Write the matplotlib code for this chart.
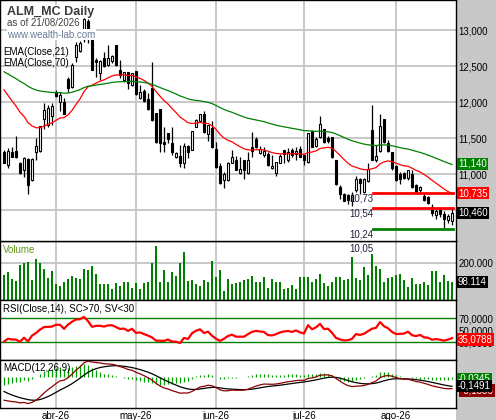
import numpy as np
import matplotlib
matplotlib.use("Agg")
import matplotlib.pyplot as plt
from matplotlib.patches import Rectangle
import matplotlib.transforms as mtransforms

plt.rcParams['font.family'] = ['Liberation Sans', 'DejaVu Sans']

# daily candles (13/03/2026 .. 21/08/2026)
opens = [11.30, 11.12, 11.30, 11.31, 11.15, 11.06, 11.20, 10.92, 11.30, 11.32,
         11.76, 11.68, 11.80, 12.12, 12.00, 12.00, 12.31, 12.21, 12.62, 12.71,
         12.87, 13.12, 12.86, 12.58, 12.41, 12.61, 12.51, 12.57, 12.79, 12.44,
         12.31, 12.41, 12.24, 12.42, 12.05, 12.15, 12.04, 12.19, 11.84, 11.90,
         11.44, 11.56, 11.43, 11.24, 11.25, 11.16, 11.38, 11.34, 11.66, 11.74,
         11.83, 11.56, 11.63, 11.34, 11.11, 10.92, 10.92, 11.16, 11.19, 11.02,
         11.19, 11.01, 11.37, 11.48, 11.29, 11.26, 11.28, 11.08, 11.02, 11.16,
         11.33, 11.19, 11.33, 11.28, 11.34, 11.26, 11.17, 11.60, 11.39, 11.51,
         11.62, 11.49, 11.51, 11.19, 10.82, 10.72, 10.70, 10.62, 10.78, 10.92,
         10.75, 10.91, 11.61, 11.19, 11.32, 11.76, 11.42, 11.30, 11.11, 10.99,
         11.01, 10.95, 10.99, 10.85, 10.78, 10.69, 10.68, 10.54, 10.43, 10.49,
         10.44, 10.36, 10.35]
highs = [11.33, 11.36, 11.38, 11.53, 11.17, 11.24, 11.22, 11.22, 11.50, 11.67,
         11.99, 11.96, 11.99, 12.17, 12.14, 12.05, 12.35, 12.54, 12.84, 12.85,
         13.17, 13.15, 12.87, 12.61, 12.58, 12.70, 12.79, 12.65, 12.79, 12.58,
         12.42, 12.42, 12.41, 12.42, 12.24, 12.18, 12.12, 12.56, 11.85, 11.91,
         11.66, 11.57, 11.66, 11.31, 11.40, 11.43, 11.40, 11.60, 11.77, 11.84,
         11.88, 11.68, 11.74, 11.44, 11.16, 11.03, 11.17, 11.34, 11.25, 11.24,
         11.20, 11.31, 11.59, 11.51, 11.39, 11.38, 11.30, 11.26, 11.17, 11.28,
         11.34, 11.36, 11.36, 11.38, 11.39, 11.28, 11.57, 11.61, 11.52, 11.81,
         11.63, 11.53, 11.52, 11.20, 10.85, 10.74, 10.72, 10.75, 10.97, 10.94,
         10.95, 11.16, 11.96, 11.40, 11.83, 11.77, 11.47, 11.31, 11.12, 11.03,
         11.03, 11.06, 11.06, 10.86, 10.83, 10.72, 10.69, 10.58, 10.51, 10.52,
         10.48, 10.45, 10.52]
lows = [11.15, 11.08, 11.23, 11.22, 11.00, 10.96, 10.72, 10.91, 11.19, 11.31,
        11.62, 11.66, 11.68, 12.07, 11.87, 11.83, 12.14, 12.20, 12.56, 12.69,
        12.84, 12.82, 12.44, 12.35, 12.31, 12.49, 12.50, 12.54, 12.50, 12.33,
        12.28, 12.18, 12.22, 12.10, 12.04, 12.00, 11.89, 11.74, 11.43, 11.31,
        11.30, 11.43, 11.26, 11.22, 11.10, 11.09, 11.22, 11.33, 11.65, 11.73,
        11.57, 11.46, 11.36, 11.09, 10.86, 10.80, 10.91, 11.15, 11.05, 11.00,
        10.93, 11.00, 11.24, 11.36, 11.28, 11.24, 11.11, 11.07, 10.97, 11.15,
        11.16, 11.17, 11.24, 11.19, 11.23, 11.13, 11.16, 11.37, 11.38, 11.50,
        11.43, 11.43, 11.22, 10.85, 10.65, 10.62, 10.59, 10.55, 10.75, 10.72,
        10.73, 10.89, 11.19, 11.17, 11.31, 11.43, 11.30, 11.06, 10.91, 10.86,
        10.93, 10.92, 10.81, 10.74, 10.73, 10.62, 10.59, 10.42, 10.38, 10.41,
        10.25, 10.32, 10.29]
closes = [11.16, 11.32, 11.24, 11.23, 11.01, 11.22, 10.85, 11.20, 11.39, 11.66,
          11.89, 11.91, 11.94, 12.09, 12.10, 11.84, 12.20, 12.51, 12.79, 12.82,
          13.15, 12.88, 12.45, 12.55, 12.56, 12.50, 12.61, 12.63, 12.51, 12.38,
          12.41, 12.26, 12.40, 12.11, 12.14, 12.02, 11.90, 11.75, 11.44, 11.43,
          11.42, 11.48, 11.30, 11.29, 11.16, 11.38, 11.30, 11.59, 11.74, 11.83,
          11.59, 11.67, 11.37, 11.10, 10.87, 10.99, 11.15, 11.23, 11.06, 11.06,
          11.06, 11.19, 11.32, 11.37, 11.34, 11.31, 11.13, 11.11, 11.16, 11.24,
          11.28, 11.30, 11.26, 11.32, 11.24, 11.19, 11.56, 11.38, 11.48, 11.69,
          11.44, 11.46, 11.23, 10.86, 10.72, 10.63, 10.64, 10.70, 10.93, 10.87,
          10.93, 11.06, 11.20, 11.25, 11.66, 11.44, 11.32, 11.08, 10.92, 10.93,
          10.95, 11.05, 10.82, 10.75, 10.81, 10.64, 10.60, 10.46, 10.48, 10.44,
          10.37, 10.41, 10.46]
volumes = [134, 150, 113, 102, 188, 198, 204, 107, 220, 197,
           166, 118, 155, 86, 75, 96, 113, 129, 118, 113,
           166, 161, 182, 139, 86, 86, 86, 59, 93, 75,
           96, 96, 64, 91, 59, 93, 96, 198, 290, 96,
           161, 96, 150, 129, 198, 257, 102, 107, 86, 75,
           107, 96, 209, 123, 161, 48, 113, 86, 91, 96,
           107, 113, 129, 96, 96, 123, 64, 113, 96, 96,
           59, 64, 80, 59, 123, 123, 123, 96, 113, 139,
           91, 75, 96, 123, 123, 107, 113, 231, 118, 107,
           177, 134, 247, 182, 166, 96, 118, 123, 134, 139,
           107, 70, 118, 86, 86, 96, 80, 155, 155, 96,
           134, 102, 98.114]
volumes = [v * 1000 for v in volumes]

month_idx = [13, 33, 53, 75, 98]
month_labels = ['abr-26', 'may-26', 'jun-26', 'jul-26', 'ago-26']

# horizontal levels drawn on the price pane
res_levels = [10.735, 10.535]
sup_levels = [10.24]
level_labels = [(10.735, '10,73'), (10.535, '10,54'), (10.24, '10,24'), (10.05, '10,05')]
level_start = 92.3

# last values printed on the right scale
last_ema21, last_ema70, last_close = 10.735, 11.140, 10.460
last_vol = 98114
last_rsi = 35.0788
last_hist, last_signal, last_macd = -0.0345, -0.1491, -0.1836

# indicator values at the first bar (history before is off-screen)
ema21_seed, ema70_seed = 12.17, 12.42
ema12_seed, ema26_seed, signal_seed = 11.82, 12.20, -0.24
rsi_gain_seed, rsi_loss_seed = 0.05, 0.11


def ema(values, n, seed):
    a = 2.0 / (n + 1)
    out = [seed]
    for v in values[1:]:
        out.append(out[-1] + a * (v - out[-1]))
    return np.array(out)


def rsi(values, n, g, l):
    out = [100 - 100 / (1 + g / l)]
    for i in range(1, len(values)):
        d = values[i] - values[i - 1]
        g = (g * (n - 1) + max(d, 0)) / n
        l = (l * (n - 1) + max(-d, 0)) / n
        out.append(100 - 100 / (1 + g / l))
    return np.array(out)


x = np.arange(len(closes))
o = np.array(opens); h = np.array(highs); lo = np.array(lows); c = np.array(closes)
ema21 = ema(closes, 21, ema21_seed)
ema70 = ema(closes, 70, ema70_seed)
rsi14 = rsi(closes, 14, rsi_gain_seed, rsi_loss_seed)
macd = ema(closes, 12, ema12_seed) - ema(closes, 26, ema26_seed)
signal = ema(list(macd), 9, signal_seed)
hist = macd - signal

W, H = 496.0, 420.0
PW = 456.0
fig = plt.figure(figsize=(W / 100, H / 100), dpi=100)
fig.patch.set_facecolor('#c8c8c8')
fig.add_artist(Rectangle((0, 0), PW / W, 1, transform=fig.transFigure,
                         facecolor='white', edgecolor='none', zorder=-1))


def pane(y0, y1):
    ax = fig.add_axes([0, 1 - y1 / H, PW / W, (y1 - y0) / H])
    ax.set_xlim(-1, 113)
    ax.set_xticks(month_idx)
    ax.grid(True, color='#c4c4c4', lw=1.3)
    ax.set_axisbelow(True)
    ax.yaxis.tick_right()
    ax.tick_params(axis='y', length=0, pad=2, labelsize=7)
    ax.tick_params(axis='x', length=0, labelbottom=False)
    for s in ax.spines.values():
        s.set_color('black')
        s.set_linewidth(1)
    return ax


def value_box(ax, y, txt, bg, fg='white', dx=0.0, dy=0.0):
    tr = mtransforms.blended_transform_factory(ax.transAxes, ax.transData)
    tr = tr + mtransforms.ScaledTranslation(dx / 100, dy / 100, fig.dpi_scale_trans)
    ax.text(1.0 + 2 / PW, y, txt, transform=tr, fontsize=7, color=fg, va='center',
            ha='left', clip_on=False, zorder=10,
            bbox=dict(boxstyle='square,pad=0.12', fc=bg, ec='none'))


def fmt(v, nd):
    return f"{v:.{nd}f}".replace('.', ',')


# price pane
axp = pane(0, 240.7)
axp.set_zorder(3)
axp.set_ylim(10.074, 13.417)
price_ticks = [10.5, 11.0, 11.5, 12.0, 12.5, 13.0]
axp.set_yticks(price_ticks)
# the 10,500 label sits under the last-close box in the reference
axp.set_yticklabels([''] + [fmt(v, 3) for v in price_ticks[1:]])
axp.vlines(x, lo, h, color='black', lw=0.9, zorder=3)
up = c >= o
axp.bar(x, np.abs(c - o) + 0.004, bottom=np.minimum(o, c), width=0.62,
        color=np.where(up, 'white', 'black'), edgecolor='black', lw=0.8, zorder=4)
axp.plot(x, ema21, color='#ff0000', lw=0.9, zorder=5)
axp.plot(x, ema70, color='#008000', lw=0.9, zorder=5)
for lv in res_levels:
    axp.plot([level_start, 112.3], [lv, lv], color='#ff0000', lw=2, zorder=6)
for lv in sup_levels:
    axp.plot([level_start, 112.3], [lv, lv], color='#008000', lw=2, zorder=6)
for lv, txt in level_labels:
    axp.text(level_start, lv - 0.01, txt, fontsize=7, color='#20203a', ha='right',
             va='top', clip_on=False, zorder=8)
value_box(axp, last_ema70, fmt(last_ema70, 3), '#008000')
value_box(axp, last_ema21, fmt(last_ema21, 3), '#ff0000')
value_box(axp, last_close, fmt(last_close, 3), 'black')

def ftxt(px, py, s, **kw):
    fig.text(px / W, 1 - py / H, s, va='center', ha='left', zorder=20, **kw)

white = dict(boxstyle='square,pad=0.05', fc='white', ec='none')
ftxt(7, 11.5, 'ALM_MC Daily', fontsize=9, fontweight='bold', color='#3c3c3c', bbox=white)
ftxt(7, 23.5, 'as of 21/08/2026', fontsize=7, color='#404040', bbox=white)
ftxt(7, 34.5, 'www.wealth-lab.com', fontsize=7, color='#687c96', bbox=white)
ftxt(3, 52, 'EMA(Close,21)', fontsize=7, color='black')
ftxt(3, 62.5, 'EMA(Close,70)', fontsize=7, color='black')

# volume pane
axv = pane(240.7, 300)
axv.set_ylim(0, 318000)
axv.set_yticks([200000])
axv.set_yticklabels(['200.000'])
axv.bar(x, volumes, width=0.5, color='#008000', zorder=3)
value_box(axv, last_vol, '98.114', 'black')
ftxt(3, 250, 'Volume', fontsize=7, color='#5f9a1c')

# RSI pane
axr = pane(300, 360)
axr.set_ylim(1, 100)
axr.set_yticks([30, 50, 70])
axr.set_yticklabels(['30,0000', '50,0000', '70,0000'])
axr.grid(False, axis='y')
axr.axhline(70, color='#008000', lw=1, zorder=2)
axr.axhline(30, color='#008000', lw=1, zorder=2)
axr.plot(x, rsi14, color='#ff0000', lw=1.6, zorder=4)
value_box(axr, last_rsi, fmt(last_rsi, 4), '#ff0000')
ftxt(3, 309, 'RSI(Close,14), SC>70, SV<30', fontsize=7, color='black')

# MACD pane
axm = pane(360, 408)
axm.set_ylim(-0.506, 0.268)
axm.set_yticks([])
axm.grid(False, axis='y')
axm.vlines(x, 0, hist, color='#00a000', lw=0.9, zorder=3)
axm.plot(x, signal, color='black', lw=0.9, zorder=4)
axm.plot(x, macd, color='#8b0000', lw=0.9, zorder=4)
value_box(axm, last_hist, fmt(last_hist, 4), '#008000')
value_box(axm, last_macd, fmt(last_macd, 4), '#8b0000', dx=2.5, dy=-2.5)
value_box(axm, last_signal, fmt(last_signal, 4), 'black')
ftxt(3, 368, 'MACD(12,26,9)', fontsize=7, color='black')
axm.tick_params(axis='x', labelbottom=True, labelsize=7, pad=2)
axm.set_xticklabels(month_labels)

fig.savefig('out.png', dpi=100, facecolor=fig.get_facecolor())
